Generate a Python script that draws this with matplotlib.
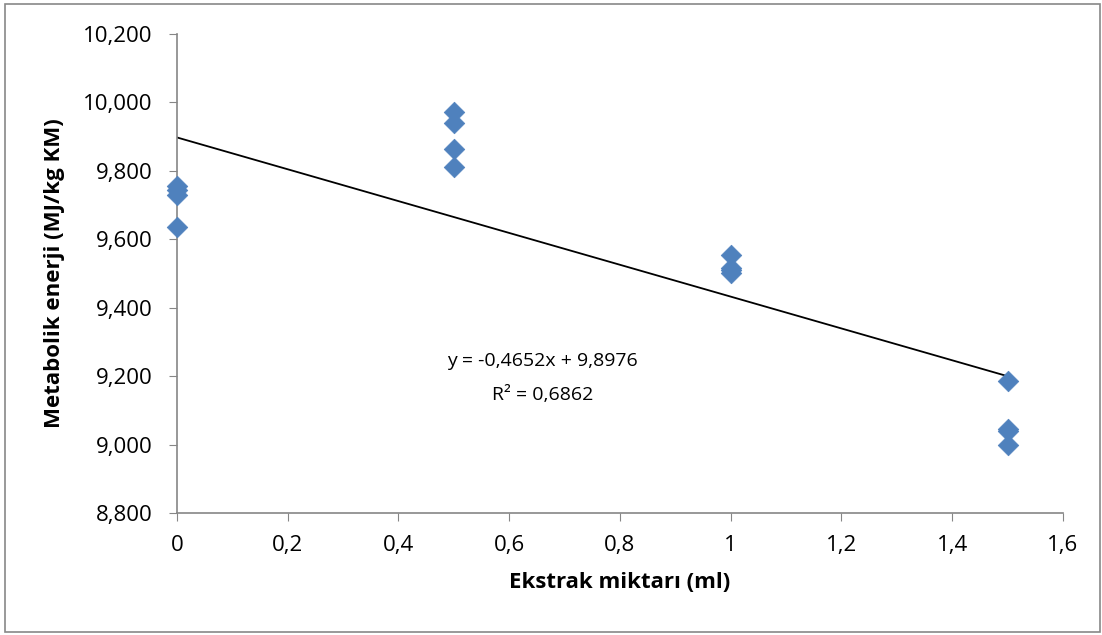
import matplotlib.pyplot as plt
from matplotlib.patches import Rectangle

extract = [0, 0, 0, 0, 0.5, 0.5, 0.5, 0.5, 1, 1, 1, 1, 1.5, 1.5, 1.5, 1.5]
energy = [9.755, 9.745, 9.730, 9.635,
          9.973, 9.940, 9.865, 9.810,
          9.555, 9.515, 9.510, 9.500,
          9.185, 9.045, 9.040, 8.998]

slope = -0.4652
intercept = 9.8976
r2 = 0.6862

xticks = [0, 0.2, 0.4, 0.6, 0.8, 1.0, 1.2, 1.4, 1.6]
xtick_labels = ["0", "0,2", "0,4", "0,6", "0,8", "1", "1,2", "1,4", "1,6"]
yticks = [8.8, 9.0, 9.2, 9.4, 9.6, 9.8, 10.0, 10.2]
ytick_labels = ["8,800", "9,000", "9,200", "9,400", "9,600", "9,800", "10,000", "10,200"]

plt.rcParams['font.family'] = ['Open Sans', 'DejaVu Sans']

fig = plt.figure(figsize=(11.02, 6.35), dpi=100)
ax = fig.add_axes([0.1606, 0.1921, 0.804, 0.7544])

# outer chart border
fig.patches.append(Rectangle((0.0045, 0.004), 0.9935, 0.9895, transform=fig.transFigure,
                             fill=False, edgecolor='#888888', linewidth=1.2))

ax.plot([0, 1.5], [intercept, intercept + slope * 1.5], color='black', linewidth=1.3, zorder=2)
ax.scatter(extract, energy, marker='D', s=110, color='#4F81BD', edgecolor='#4F81BD',
           linewidth=0.5, zorder=3, clip_on=False)

ax.set_xlim(0, 1.6)
ax.set_ylim(8.8, 10.2)
ax.set_xticks(xticks)
ax.set_xticklabels(xtick_labels)
ax.set_yticks(yticks)
ax.set_yticklabels(ytick_labels)

for s in ['top', 'right']:
    ax.spines[s].set_visible(False)
for s in ['left', 'bottom']:
    ax.spines[s].set_color('#868686')
    ax.spines[s].set_linewidth(1.2)
ax.tick_params(axis='both', direction='out', length=5.5, color='#868686', labelsize=16)
ax.tick_params(axis='y', pad=12)
ax.tick_params(axis='x', pad=10)

ax.set_xlabel("Ekstrak miktarı (ml)", fontsize=16, fontweight='bold', labelpad=12)
ax.set_ylabel("Metabolik enerji (MJ/kg KM)", fontsize=16, fontweight='bold', labelpad=13)

ax.text(0.66, 9.245, "y = -0,4652x + 9,8976", ha='center', va='center', fontsize=14)
ax.text(0.66, 9.145, "R² = 0,6862", ha='center', va='center', fontsize=14)

fig.savefig("out.png", dpi=100)
